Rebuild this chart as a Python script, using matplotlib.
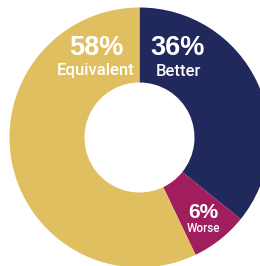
import matplotlib
matplotlib.use('Agg')
import matplotlib.pyplot as plt

# share of each slice (clockwise from 12 o'clock)
categories = ['Better', 'Worse', 'Equivalent']
shares = [35.8, 7.1, 57.1]
pct_labels = ['36%', '6%', '58%']
colors = ['#21285B', '#A01E5E', '#E0BF60']

W, H = 260, 266
fig = plt.figure(figsize=(W / 100, H / 100), dpi=100)
ax = fig.add_axes([0, 0, 1, 1])

# donut centre / radii in pixel units (y measured from the bottom)
cx, cy = 139.5, H - 137.5
r_out, r_in = 130, 55

ax.pie(shares, colors=colors, startangle=90, counterclock=False,
       center=(cx, cy), radius=r_out,
       wedgeprops=dict(width=r_out - r_in, linewidth=0))

ax.set_xlim(0, W)
ax.set_ylim(0, H)
ax.set_aspect('equal')
ax.axis('off')

big = dict(color='white', fontweight='bold', family=['Liberation Sans', 'DejaVu Sans'],
           ha='center', va='baseline')
word = dict(color='white', fontweight='medium', family=['Roboto', 'Liberation Sans', 'DejaVu Sans'],
            ha='center', va='baseline')

# labels: (x, baseline of number, baseline of word, number size, word size)
spots = {
    'Better': (178, 55, 76, 19.5, 12),
    'Worse': (203, 218, 232, 15, 8.5),
    'Equivalent': (96, 55, 75, 19.5, 12),
}
for cat, pct in zip(categories, pct_labels):
    x, yb1, yb2, s1, s2 = spots[cat]
    ax.text(x, H - yb1, pct, fontsize=s1, **big)
    ax.text(x, H - yb2, cat, fontsize=s2, **word)

fig.savefig('out.png', dpi=100)
